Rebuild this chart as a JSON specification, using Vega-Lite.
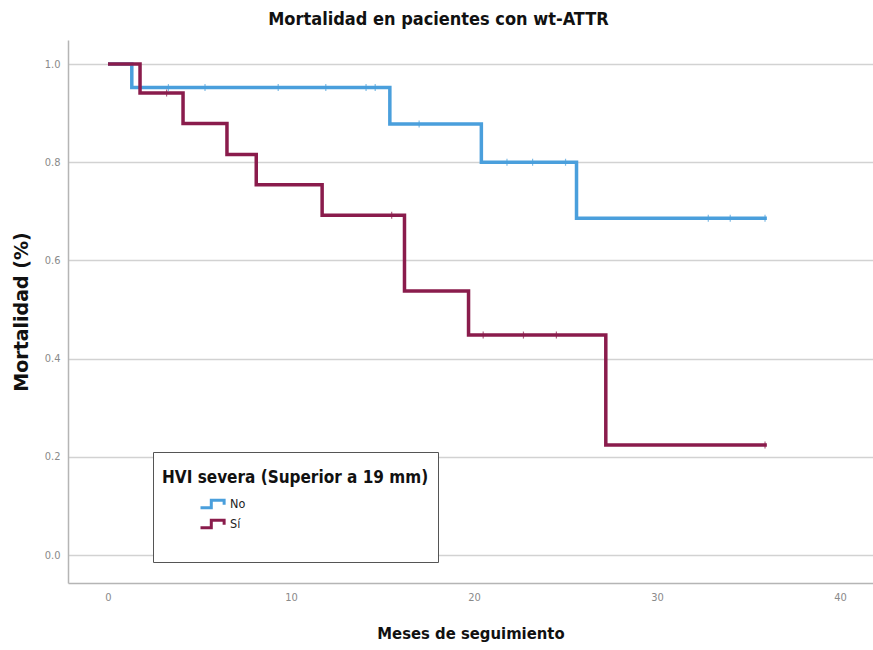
{
  "$schema": "https://vega.github.io/schema/vega-lite/v6.json",
  "width": 805,
  "height": 543,
  "autosize": {"type": "none"},
  "padding": {"left": 68, "top": 40, "right": 0, "bottom": 67},
  "title": {
    "text": "Mortalidad en pacientes con wt-ATTR",
    "font": "DejaVu Sans Condensed",
    "fontSize": 18,
    "fontWeight": "bold",
    "color": "#111111",
    "anchor": "middle",
    "frame": "group",
    "dx": -32,
    "offset": 11
  },
  "datasets": {
    "curvas": [
      {"grupo": "No", "t": 0, "s": 1.0},
      {"grupo": "No", "t": 1.3, "s": 0.952},
      {"grupo": "No", "t": 15.4, "s": 0.878},
      {"grupo": "No", "t": 20.4, "s": 0.80},
      {"grupo": "No", "t": 25.6, "s": 0.686},
      {"grupo": "No", "t": 36.0, "s": 0.686},
      {"grupo": "Sí", "t": 0, "s": 1.0},
      {"grupo": "Sí", "t": 1.75, "s": 0.941},
      {"grupo": "Sí", "t": 4.1, "s": 0.879},
      {"grupo": "Sí", "t": 6.5, "s": 0.816},
      {"grupo": "Sí", "t": 8.1, "s": 0.754},
      {"grupo": "Sí", "t": 11.7, "s": 0.692},
      {"grupo": "Sí", "t": 16.2, "s": 0.538},
      {"grupo": "Sí", "t": 19.7, "s": 0.448},
      {"grupo": "Sí", "t": 27.2, "s": 0.224},
      {"grupo": "Sí", "t": 36.0, "s": 0.224}
    ],
    "censuras": [
      {"grupo": "No", "t": 3.3, "s": 0.952},
      {"grupo": "No", "t": 5.3, "s": 0.952},
      {"grupo": "No", "t": 9.3, "s": 0.952},
      {"grupo": "No", "t": 11.9, "s": 0.952},
      {"grupo": "No", "t": 14.1, "s": 0.952},
      {"grupo": "No", "t": 14.6, "s": 0.952},
      {"grupo": "No", "t": 17.0, "s": 0.878},
      {"grupo": "No", "t": 21.8, "s": 0.80},
      {"grupo": "No", "t": 23.2, "s": 0.80},
      {"grupo": "No", "t": 25.0, "s": 0.80},
      {"grupo": "No", "t": 32.8, "s": 0.686},
      {"grupo": "No", "t": 34.0, "s": 0.686},
      {"grupo": "No", "t": 35.9, "s": 0.686},
      {"grupo": "Sí", "t": 3.2, "s": 0.941},
      {"grupo": "Sí", "t": 15.5, "s": 0.692},
      {"grupo": "Sí", "t": 20.5, "s": 0.448},
      {"grupo": "Sí", "t": 22.7, "s": 0.448},
      {"grupo": "Sí", "t": 24.5, "s": 0.448},
      {"grupo": "Sí", "t": 35.9, "s": 0.224}
    ]
  },
  "layer": [
    {
      "data": {"name": "curvas"},
      "mark": {"type": "line", "interpolate": "step-after", "strokeWidth": 3.5},
      "encoding": {
        "x": {
          "field": "t", "type": "quantitative",
          "scale": {"domain": [-2.186, 41.8], "nice": false, "zero": false},
          "axis": {
            "title": "Meses de seguimiento",
            "values": [0, 10, 20, 30, 40],
            "grid": false,
            "ticks": false,
            "labelPadding": 8,
            "titlePadding": 23,
            "titleFontSize": 16.5
          }
        },
        "y": {
          "field": "s", "type": "quantitative",
          "scale": {"domain": [-0.057, 1.049], "nice": false, "zero": false},
          "axis": {
            "title": "Mortalidad (%)",
            "values": [0, 0.2, 0.4, 0.6, 0.8, 1.0],
            "format": ".1f",
            "grid": true,
            "ticks": false,
            "labelPadding": 8,
            "titlePadding": 13,
            "titleFont": "DejaVu Sans",
            "titleFontSize": 19
          }
        },
        "color": {
          "field": "grupo", "type": "nominal",
          "scale": {"domain": ["No", "Sí", " "], "range": ["#4a9fdc", "#8a1c4c", "rgba(0,0,0,0)"]},
          "legend": {
            "title": ["", "HVI severa (Superior a 19 mm)"],
            "titleLineHeight": 9,
            "values": ["No", "Sí", " "],
            "orient": "none",
            "legendX": 85,
            "legendY": 412,
            "fillColor": "#ffffff",
            "strokeColor": "#555555",
            "padding": 9,
            "titlePadding": 8,
            "titleLimit": 500,
            "titleFont": "DejaVu Sans Condensed",
            "titleFontSize": 17,
            "titleFontWeight": "bold",
            "titleColor": "#111111",
            "labelFont": "DejaVu Sans Condensed",
            "labelFontSize": 12.5,
            "labelColor": "#222222",
            "labelOffset": 1,
            "symbolType": "M-1,0.27H-0.2V-0.27H0.75V0.05V-0.27H-0.2V0.27Z",
            "symbolSize": 729,
            "symbolStrokeWidth": 3,
            "symbolOpacity": 1,
            "symbolFillColor": "rgba(0,0,0,0)",
            "symbolOffset": 37,
            "clipHeight": 18,
            "rowPadding": 2
          }
        }
      }
    },
    {
      "data": {"name": "censuras"},
      "mark": {"type": "tick", "orient": "vertical", "size": 7, "thickness": 1.2},
      "encoding": {
        "x": {"field": "t", "type": "quantitative"},
        "y": {"field": "s", "type": "quantitative"},
        "color": {"field": "grupo", "type": "nominal", "legend": null}
      }
    }
  ],
  "config": {
    "view": {"stroke": null},
    "axis": {
      "domainColor": "#b5b5b5",
      "domainWidth": 1.5,
      "gridColor": "#d2d2d2",
      "gridWidth": 1.3,
      "labelFont": "DejaVu Sans Condensed",
      "labelFontSize": 11,
      "labelColor": "#8a8a8a",
      "titleFont": "DejaVu Sans Condensed",
      "titleFontSize": 16,
      "titleFontWeight": "bold",
      "titleColor": "#111111"
    }
  }
}
